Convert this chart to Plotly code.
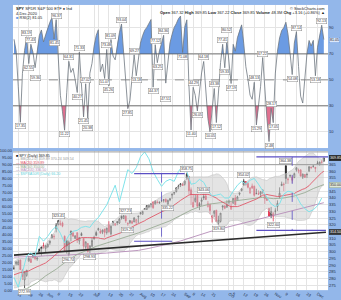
import plotly.graph_objects as go
import pandas as pd

# ---------------- data ----------------
HOLIDAYS = ["2020-05-25", "2020-07-03", "2020-09-07", "2020-11-26"]
START, END = "2020-05-07", "2020-12-04"
dates = [d for d in pd.bdate_range(START, END) if d.strftime("%Y-%m-%d") not in HOLIDAYS]

prior_close = [278.20, 275.66, 283.79, 277.76, 279.10, 286.64, 281.59, 273.04, 279.10, 279.08,
               282.97, 287.05, 283.92, 293.21, 290.48, 282.79, 283.57, 286.19, 284.25]

opens = [287.75,291.09,290.34,293.79,286.06,278.95,282.37,293.05,294.35,295.82,296.79,294.57,301.93,302.12,304.65,302.46,
303.62,306.55,310.24,311.11,317.23,320.22,320.30,321.42,311.46,308.24,298.02,315.48,314.07,310.01,314.17,307.99,313.49,309.84,303.47,306.16,301.41,303.99,
309.57,314.24,316.37,315.38,314.61,316.84,314.31,320.13,313.30,322.41,319.79,322.41,321.43,326.45,324.62,326.47,320.95,321.63,322.43,322.12,321.90,325.90,
328.32,327.86,331.47,331.48,333.28,335.06,336.85,335.44,336.60,336.41,337.94,338.34,339.05,335.36,338.46,342.12,343.53,344.76,348.51,349.44,350.35,
350.21,354.67,355.87,346.13,336.71,337.55,341.82,335.82,337.49,341.12,341.51,333.56,335.37,325.70,328.57,330.90,321.22,322.58,333.22,333.97,333.09,
337.69,331.70,336.06,339.91,338.12,342.85,345.56,349.59,352.28,350.75,343.71,348.96,348.65,343.46,343.33,342.96,345.93,342.13,339.76,332.10,326.91,328.28,
330.20,333.69,340.86,349.24,349.93,363.97,353.49,356.40,355.58,355.27,360.98,359.97,360.91,355.60,357.50,357.28,360.21,363.13,363.84,362.83,
365.57,364.82,366.68,367.32]
highs = [289.78,292.95,294.00,294.24,287.19,285.11,286.33,296.75,296.21,297.87,297.67,295.63,302.19,303.57,306.84,305.01,
306.21,308.13,313.22,313.00,321.27,323.41,323.28,322.39,312.15,309.08,308.28,315.64,314.39,312.30,314.38,310.62,314.50,310.51,307.64,306.39,304.61,310.20,
311.89,315.70,317.88,317.10,316.50,317.10,317.88,322.71,319.76,323.04,321.28,322.57,325.13,326.93,327.20,327.23,321.99,323.41,323.64,325.73,324.41,326.63,
329.62,330.06,332.39,334.46,334.88,335.77,337.54,338.28,338.25,337.42,338.34,339.10,339.61,338.80,339.72,343.00,344.21,347.86,349.90,350.72,351.30,
352.71,358.75,356.38,347.83,342.64,342.46,342.53,336.97,340.38,343.06,343.06,337.70,335.49,327.13,330.90,331.20,326.80,328.87,333.65,334.77,338.29,
338.74,337.01,339.96,342.17,341.63,343.85,347.35,354.02,352.47,351.93,348.02,350.75,349.33,346.88,345.67,345.24,345.99,342.98,340.12,332.84,333.40,329.69,
332.36,338.25,347.94,352.19,351.51,364.38,355.18,357.56,356.72,358.90,362.78,361.92,361.50,358.18,357.72,358.82,363.81,363.16,364.18,363.12,
367.68,366.96,368.19,369.85]
lows = [286.34,289.86,289.88,286.52,278.97,272.99,281.34,292.70,291.95,295.57,293.69,293.22,298.69,296.87,302.24,299.76,
303.06,305.10,309.94,309.08,314.43,319.63,319.36,318.22,300.01,298.60,296.74,307.67,310.86,309.51,306.53,305.48,311.61,302.10,301.88,299.42,298.93,303.82,
309.07,311.51,315.56,313.67,313.09,310.68,312.76,314.13,312.00,319.27,319.09,319.74,320.62,323.94,324.47,321.48,319.25,320.77,320.85,322.08,319.64,321.33,
327.73,327.86,331.18,331.13,332.30,332.96,331.84,335.36,335.83,335.62,336.85,336.61,336.62,335.22,337.55,339.45,342.27,344.17,346.53,348.15,349.06,
349.24,353.43,342.59,334.87,332.88,336.61,332.85,331.00,334.22,338.52,338.52,332.99,327.97,321.73,325.86,322.10,319.80,321.74,330.77,331.62,332.88,
335.01,331.19,336.01,334.38,337.86,341.86,344.89,349.06,349.09,347.14,343.13,347.10,341.04,342.64,342.40,340.65,343.13,335.62,337.99,326.13,325.09,322.60,
327.24,330.29,339.59,348.86,345.10,350.51,350.51,355.06,351.26,354.71,359.59,358.34,356.24,354.15,355.25,354.87,359.29,361.48,362.58,359.17,
364.93,364.20,365.50,367.22]
closes = [287.68,292.44,292.50,286.67,281.60,284.97,286.28,295.00,291.97,296.93,294.88,295.44,299.08,303.53,302.97,304.32,
305.55,308.08,312.18,311.36,319.34,323.20,320.79,319.00,300.61,304.21,307.05,312.96,311.66,311.78,308.64,310.62,312.05,304.09,307.35,300.05,304.46,308.36,
310.52,312.23,317.05,313.78,316.18,314.38,317.59,314.84,318.92,321.85,320.79,321.72,324.32,325.01,326.86,322.96,320.88,323.22,321.17,325.12,323.96,326.52,
328.79,330.06,332.11,334.33,334.57,335.57,332.80,337.44,336.83,336.84,337.91,338.64,337.23,338.28,339.48,342.92,344.12,347.57,348.33,350.58,349.31,
352.60,357.70,345.39,342.57,333.21,339.79,333.89,334.06,338.46,340.17,338.82,335.84,330.65,326.97,330.30,322.64,323.50,328.73,334.19,332.37,334.89,
337.04,333.84,339.76,334.93,340.76,343.78,346.85,352.43,350.13,347.93,347.50,347.29,342.01,343.38,342.73,344.61,345.78,339.39,338.22,326.66,329.98,326.54,
330.20,336.03,343.54,350.24,350.16,354.56,354.04,356.67,353.21,358.10,362.57,360.62,356.28,357.78,355.33,357.46,363.22,362.66,363.67,362.06,
366.02,366.79,366.69,369.85]

rsi = [81.27,72.40,45.12,17.35,55.08,72.61,83.19,62.55,77.43,71.20,59.36,72.88,84.10,88.44,79.21,84.67,90.12,94.30,98.06,81.45,
96.37,62.80,38.15,25.40,11.22,40.06,64.31,55.72,58.90,50.18,40.27,71.33,48.60,21.45,47.02,20.38,55.14,62.70,76.05,84.22,
88.61,56.34,62.19,51.07,73.48,45.26,81.09,68.35,65.42,78.10,86.27,93.04,70.66,52.31,27.85,34.12,54.40,69.27,53.18,68.52,
78.33,84.05,88.20,90.41,93.16,96.48,44.37,77.12,63.25,72.40,78.09,84.36,47.51,65.28,78.44,85.10,90.33,93.27,97.05,99.12,
71.08,90.46,96.25,45.37,11.40,44.29,38.16,26.05,40.22,55.31,64.18,38.44,20.17,10.05,30.26,43.38,17.12,45.06,63.29,77.41,
59.33,80.52,62.07,47.19,77.35,72.08,82.44,88.16,92.37,78.25,60.14,50.32,38.27,35.06,48.13,15.29,28.41,45.08,67.22,40.15,
20.36,2.48,28.17,17.05,55.26,72.14,82.33,88.05,90.19,94.37,85.22,70.41,54.08,78.26,87.14,60.33,37.42,32.15,53.27,70.08,
80.35,76.12,80.44,53.18,75.06,84.27,92.13,81.05]

# overlay indicator (left scale), one reading every second session
cyan = [9.2,2.1,12.7,24.6,26.8,24.6,38.7,35.2,38.7,43.0,45.8,40.8,33.8,39.4,42.3,43.0,45.1,45.8,45.1,49.3,
        52.1,56.3,61.3,68.3,75.4,63.4,75.4,86.6,83.8,88.0,95.8,99.3,94.4,85.2,79.6,74.6,78.2,79.6,78.2,85.2,
        89.4,85.2,76.1,76.8,79.6,77.5,71.8,67.6,68.3,69.0,66.2,66.2,71.1,75.4,78.2,76.1,78.9,80.3,76.1,71.1,
        66.2,62.0,59.9,62.0,69.0,71.1,70.4,67.6,62.0,58.5,56.3,57.7,60.6,66.2]

ma_dates = ["2020-05-07","2020-05-15","2020-05-22","2020-05-29","2020-06-05","2020-06-12","2020-06-19","2020-06-26",
            "2020-07-02","2020-07-10","2020-07-17","2020-07-24","2020-07-31","2020-08-07","2020-08-14","2020-08-21",
            "2020-08-28","2020-09-04","2020-09-11","2020-09-18","2020-09-25","2020-10-02","2020-10-09","2020-10-16",
            "2020-10-23","2020-10-30","2020-11-06","2020-11-13","2020-11-20","2020-11-27","2020-12-04"]
ma50 = [270.5,272.5,277.0,282.0,287.0,293.0,298.0,301.5,304.0,306.5,309.0,311.0,314.0,317.0,320.0,323.0,
        327.0,331.0,333.5,335.5,336.5,337.5,338.5,339.5,340.5,339.5,340.0,341.5,344.0,347.0,350.0]
ma200 = [296.0,296.0,296.5,297.0,297.0,297.5,298.0,298.0,298.5,299.0,299.5,300.0,301.0,302.5,304.0,306.0,
         308.0,310.5,313.0,315.0,317.0,319.0,321.0,323.0,325.0,326.5,328.5,330.5,332.5,334.5,336.5]

trend_dates = ["2020-05-07", "2020-12-07"]
trend_prices = [297.5, 314.5]
hlines = [374.3, 364.8]
mm_top = [("2020-07-29", "2020-09-01", 358.1), ("2020-10-20", "2020-12-08", 370.6)]
mm_bot = [("2020-07-29", "2020-08-24", 307.8), ("2020-10-20", "2020-12-07", 315.9)]
mm_vert = [("2020-08-17", 358.1, 307.8), ("2020-11-12", 370.6, 315.9)]

tick_dates = ["2020-05-11","2020-05-18","2020-05-26","2020-06-01","2020-06-08","2020-06-15","2020-06-22","2020-07-01",
              "2020-07-06","2020-07-13","2020-07-20","2020-07-27","2020-08-03","2020-08-10","2020-08-17","2020-08-24",
              "2020-09-01","2020-09-08","2020-09-14","2020-09-21","2020-10-01","2020-10-05","2020-10-12","2020-10-19",
              "2020-10-26","2020-11-02","2020-11-09","2020-11-16","2020-11-23","2020-12-01"]
tick_text = ["11","18","26","Jun","8","15","22","Jul","6","13","20","27","Aug","10","17","24",
             "Sep","8","14","21","Oct","5","12","19","26","Nov","9","16","23","Dec"]
price_ticks = list(range(275, 375, 5))

n = len(dates)
for arr in (opens, highs, lows, closes, rsi):
    assert len(arr) == n, len(arr)
assert len(cyan) == len(dates[::2])

# ---------------- styling ----------------
BLUE = "#93b7ea"
GRID = "#e4e4e4"
FONT = "Liberation Sans"
XD = [12 / 341, 328 / 341]
TOP_D = [(300 - 148) / 300, (300 - 2) / 300]
BOT_D = [(300 - 293) / 300, (300 - 151) / 300]
RSI_R = [-2.5, 107.7]
PRICE_R = [271.4, 375]
rb = [dict(bounds=["sat", "mon"]), dict(values=HOLIDAYS)]
XR = ["2020-05-06 12:00", "2020-12-08"]

fig = go.Figure()

# ---- RSI panel ----
def clipped(vals, level, above):
    xs, ys = [], []
    for i, v in enumerate(vals):
        ins = v > level if above else v < level
        if i > 0:
            pv = vals[i - 1]
            pins = pv > level if above else pv < level
            if ins != pins:
                t = (level - pv) / (v - pv)
                xs.append(dates[i - 1] + pd.Timedelta(days=t))
                ys.append(level)
        xs.append(dates[i])
        ys.append(max(v, level) if above else min(v, level))
    return xs + [xs[-1], xs[0]], ys + [level, level]

bx, by = clipped(rsi, 70, True)
fig.add_trace(go.Scatter(x=bx, y=by, xaxis="x2", yaxis="y2", fill="toself", mode="none",
                         fillcolor="#6b9be3", hoverinfo="skip"))
px_, py_ = clipped(rsi, 30, False)
fig.add_trace(go.Scatter(x=px_, y=py_, xaxis="x2", yaxis="y2", fill="toself", mode="none",
                         fillcolor="#e0708f", hoverinfo="skip"))
fig.add_trace(go.Scatter(x=dates, y=rsi, xaxis="x2", yaxis="y2", mode="lines",
                         line=dict(color="#6f7780", width=0.8)))

# ---- price panel ----
cs = pd.Series(prior_close + closes)
mid = cs.rolling(20).mean().iloc[len(prior_close):].tolist()
sd = cs.rolling(20).std(ddof=0).iloc[len(prior_close):].tolist()
upper = [m + 2 * s for m, s in zip(mid, sd)]
lower = [m - 2 * s for m, s in zip(mid, sd)]

fig.add_trace(go.Scatter(x=dates, y=upper, mode="lines", line=dict(color="#c4c4c4", width=0.6)))
fig.add_trace(go.Scatter(x=dates, y=lower, mode="lines", line=dict(color="#c4c4c4", width=0.6),
                         fill="tonexty", fillcolor="rgba(205,205,205,0.55)"))

fig.add_trace(go.Scatter(x=dates[::2], y=cyan, yaxis="y3", mode="lines",
                         line=dict(color="#7fe3ea", width=1)))

fig.add_trace(go.Scatter(x=ma_dates, y=ma200, mode="lines", line=dict(color="#b68cb8", width=0.9)))
fig.add_trace(go.Scatter(x=ma_dates, y=ma50, mode="lines", line=dict(color="#9aab95", width=0.9)))
fig.add_trace(go.Scatter(x=dates, y=mid, mode="lines", line=dict(color="#e0475b", width=0.8)))
fig.add_trace(go.Scatter(x=trend_dates, y=trend_prices, mode="lines", line=dict(color="#2b2b2b", width=1.6)))

prev = [prior_close[-1]] + closes[:-1]
for col, sel in (("#111111", [c >= p for c, p in zip(closes, prev)]),
                 ("#e0213f", [c < p for c, p in zip(closes, prev)])):
    idx = [i for i in range(n) if sel[i]]
    fig.add_trace(go.Candlestick(
        x=[dates[i] for i in idx], open=[opens[i] for i in idx], high=[highs[i] for i in idx],
        low=[lows[i] for i in idx], close=[closes[i] for i in idx],
        increasing=dict(line=dict(color=col, width=0.7), fillcolor="white"),
        decreasing=dict(line=dict(color=col, width=0.7), fillcolor=col),
        whiskerwidth=0, showlegend=False))

shapes = []
for lv in hlines:
    shapes.append(dict(type="line", xref="paper", x0=XD[0], x1=XD[1], yref="y", y0=lv, y1=lv,
                       line=dict(color="#9a9a9a", width=1)))
for x0, x1, lv in mm_top + mm_bot:
    shapes.append(dict(type="line", xref="x", x0=x0, x1=x1, yref="y", y0=lv, y1=lv,
                       line=dict(color="#5b4fc4", width=1.2)))
for xv, y0, y1 in mm_vert:
    shapes.append(dict(type="line", xref="x", x0=xv, x1=xv, yref="y", y0=y0, y1=y1,
                       line=dict(color="#5b4fc4", width=0.8, dash="dash")))
for lv, dash, colr in ((70, "solid", "#555555"), (50, "dash", "#777777"), (30, "solid", "#555555")):
    shapes.append(dict(type="line", xref="paper", x0=XD[0], x1=XD[1], yref="y2", y0=lv, y1=lv,
                       line=dict(color=colr, width=0.8, dash=dash)))

# ---- swing labels, placed so that they do not collide ----
ann = []
lab = dict(showarrow=False, font=dict(size=3.6, color="#333", family=FONT), bgcolor="white",
           bordercolor="#8a8a8a", borderwidth=0.5, borderpad=0.5)
placed = []
SPAN = 149.5

def xpix(i):
    return 12 + 316 * (i + 0.5) / SPAN

def place(xp, yp, up):
    shift = 1
    for _ in range(6):
        top, bot = (yp - shift - 5.5, yp - shift) if up else (yp + shift, yp + shift + 5.5)
        box = (xp - 6.5, xp + 6.5, top, bot)
        if not any(b[0] < box[1] and box[0] < b[1] and b[2] < box[3] and box[2] < b[3] for b in placed):
            break
        shift += 6
    placed.append(box)
    return shift

def rsi_py(v):
    return 2 + (RSI_R[1] - v) / (RSI_R[1] - RSI_R[0]) * 146

def price_py(p):
    return 151 + (PRICE_R[1] - p) / (PRICE_R[1] - PRICE_R[0]) * 142

for i in range(1, n - 1):
    v = rsi[i]
    if v - rsi[i - 1] >= 6 and v - rsi[i + 1] >= 6:
        s = place(xpix(i), rsi_py(v), True)
        ann.append(dict(x=dates[i], y=v, xref="x2", yref="y2", text=f"{v:.2f}", yanchor="bottom", yshift=s, **lab))
    elif rsi[i - 1] - v >= 6 and rsi[i + 1] - v >= 6:
        s = place(xpix(i), rsi_py(v), False)
        ann.append(dict(x=dates[i], y=v, xref="x2", yref="y2", text=f"{v:.2f}", yanchor="top", yshift=-s, **lab))
W = 5
for i in range(1, n - 1):
    lo, hi = max(0, i - W), min(n, i + W + 1)
    hw, lw = highs[lo:hi], lows[lo:hi]
    if lo + hw.index(max(hw)) == i:
        s = place(xpix(i), price_py(highs[i]), True)
        ann.append(dict(x=dates[i], y=highs[i], xref="x", yref="y", text=f"{highs[i]:.2f}",
                        yanchor="bottom", yshift=s, **lab))
    if lo + lw.index(min(lw)) == i:
        s = place(xpix(i), price_py(lows[i]), False)
        ann.append(dict(x=dates[i], y=lows[i], xref="x", yref="y", text=f"{lows[i]:.2f}",
                        yanchor="top", yshift=-s, **lab))

hdr = dict(showarrow=False, xref="paper", yref="paper", font=dict(size=4, family=FONT, color="#222"))
ann += [
    dict(x=13.5 / 341, y=1 - 1.5 / 300, xanchor="left", yanchor="top",
         text="<b>SPY</b> SPDR S&P 500 ETF ● Ind", **hdr),
    dict(x=13.5 / 341, y=1 - 6 / 300, xanchor="left", yanchor="top", text="4-Dec-2020", **hdr),
    dict(x=13.5 / 341, y=1 - 10 / 300, xanchor="left", yanchor="top",
         text=f"<span style='color:#6b9be3'>■</span> RSI(2) {rsi[-1]:.2f}", **hdr),
    dict(x=327 / 341, y=1 - 1 / 300, xanchor="right", yanchor="top", text="© StockCharts.com", **hdr),
    dict(x=327 / 341, y=1 - 5 / 300, xanchor="right", yanchor="top",
         text=f"<b>Open</b> {opens[-1]:.2f} <b>High</b> {highs[-1]:.2f} <b>Low</b> {lows[-1]:.2f} "
              f"<b>Close</b> {closes[-1]:.2f} <b>Volume</b> 48.3M <b>Chg</b> "
              f"+{closes[-1]-closes[-2]:.2f} (+{(closes[-1]/closes[-2]-1)*100:.2f}%) ▲", **hdr),
]
leg_rows = [
    ("#111111", f"■ SPY (Daily) {closes[-1]:.2f}"),
    ("#9a9a9a", f"— BB(20,2.0) {mid[-1]:.2f} {upper[-1]:.2f} {lower[-1]:.2f}"),
    ("#e0475b", f"— MA(20) {mid[-1]:.2f}"),
    ("#8fa58a", f"— MA(50) {ma50[-1]:.2f}"),
    ("#b68cb8", f"— MA(200) {ma200[-1]:.2f}"),
    ("#5fd3dc", f"— $SPXA50R (Daily) {cyan[-1]:.2f}"),
]
for k, (c, t) in enumerate(leg_rows):
    ann.append(dict(x=13.5 / 341, y=1 - (152 + 3.6 * k) / 300, xanchor="left", yanchor="top", text=t,
                    showarrow=False, xref="paper", yref="paper",
                    font=dict(size=3.6, family=FONT, color=c)))

# current value tags on the right scale
tags = [(closes[-1], "y", "#222222", "#222222", "white"),
        (ma50[-1], "y", "#dfe8d8", "#8fa58a", "#222"),
        (trend_prices[-1], "y", "#333333", "#333333", "white"),
        (rsi[-1], "y2", "#dce8fa", "#6b9be3", "#222")]
for val, yr, bg, bc, fc in tags:
    ann.append(dict(y=val, yref=yr, x=328.5 / 341, xref="paper", xanchor="left", text=f"{val:.2f}",
                    showarrow=False, bgcolor=bg, bordercolor=bc, borderwidth=0.5, borderpad=0.5,
                    font=dict(size=3.6, family=FONT, color=fc)))
tag_prices = [t[0] for t in tags if t[1] == "y"]
price_tickvals = [p for p in price_ticks if all(abs(p - t) > 3.2 for t in tag_prices)]

axfont = dict(size=4, family=FONT, color="#1d2b44")
fig.update_layout(
    width=341, height=300, margin=dict(l=0, r=0, t=0, b=0),
    paper_bgcolor=BLUE, plot_bgcolor="white", showlegend=False,
    font=dict(family=FONT, size=4, color="#222"),
    shapes=shapes, annotations=ann, hovermode=False,
    xaxis=dict(domain=XD, anchor="y", type="date", range=XR, rangebreaks=rb, rangeslider=dict(visible=False),
               tickvals=tick_dates, ticktext=tick_text, tickfont=axfont, ticks="", showgrid=True,
               gridcolor=GRID, gridwidth=0.6, zeroline=False, showline=False),
    xaxis2=dict(domain=XD, anchor="y2", type="date", range=XR, rangebreaks=rb, matches="x",
                tickvals=tick_dates, showticklabels=False, ticks="", showgrid=True, gridcolor=GRID,
                gridwidth=0.6, zeroline=False),
    yaxis=dict(domain=BOT_D, anchor="x", side="right", range=PRICE_R, tickvals=price_tickvals,
               tickfont=axfont, ticks="", showgrid=True, gridcolor=GRID, gridwidth=0.6, zeroline=False),
    yaxis3=dict(overlaying="y", side="left", range=[0, 100], dtick=5, tickformat=".2f", tickfont=axfont,
                ticks="", showgrid=False, zeroline=False, anchor="x"),
    yaxis2=dict(domain=TOP_D, anchor="x2", side="right", range=RSI_R, tickvals=[10, 30, 50, 70, 90],
                tickfont=axfont, ticks="", showgrid=True, gridcolor=GRID, gridwidth=0.6, zeroline=False),
)

fig.write_html("out.html")
